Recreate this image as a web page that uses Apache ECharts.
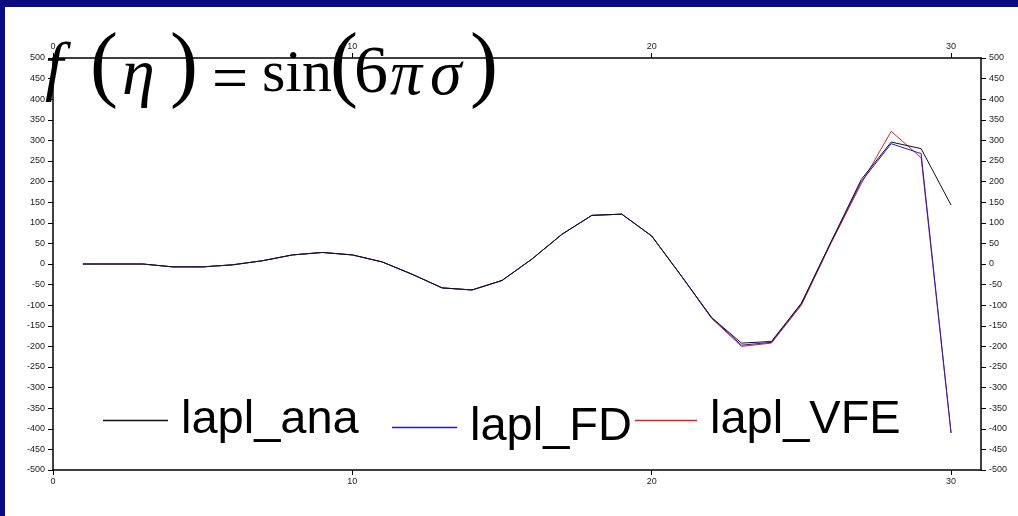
<!DOCTYPE html>
<html><head><meta charset="utf-8">
<script src="https://cdn.jsdelivr.net/npm/echarts@6/dist/echarts.min.js"></script>
<style>
html,body{margin:0;padding:0;background:#0a0a82;width:1018px;height:516px;overflow:hidden}
#panel{position:absolute;left:5px;top:7px;width:1013px;height:509px;background:#fff}
#c{position:absolute;left:0;top:0;width:1018px;height:516px}
</style></head><body>
<div id="panel"></div>
<div id="c"></div>
<script>
const xs = [1,2,3,4,5,6,7,8,9,10,11,12,13,14,15,16,17,18,19,20,21,22,23,24,25,26,27,28,29,30];
const laplAna = [0,0,0,-7,-7,-2,8,22,28,22,5,-25,-58,-63,-40,12,72,118,121,68,-30,-130,-192,-188,-95,55,205,296,280,143];
const laplFD  = [0,0,0,-7,-7,-2,8,22,28,22,5,-25,-58,-63,-40,12,72,118,121,68,-30,-130,-197,-190,-97,55,200,292,268,-410];
const laplVFE = [0,0,0,-7,-7,-2,8,22,28,22,5,-25,-58,-63,-40,12,72,118,121,68,-30,-132,-200,-192,-100,52,195,322,258,-410];
const xTicks = [0,10,20,30];

const chart = echarts.init(document.getElementById('c'), null, {renderer:'canvas'});
const pair = (ys) => xs.map((x,i)=>[x, ys[i]]);
const lbl = {fontSize:9, color:'#222', fontFamily:'Liberation Sans'};
const axLine = {onZero:false, lineStyle:{color:'#000', width:1.5}};
const xBase = {type:'value', min:0, max:31, interval:10, splitLine:{show:false},
  axisLine:axLine, axisTick:{show:true, length:5, customValues:xTicks, lineStyle:{color:'#000'}},
  axisLabel:Object.assign({customValues:xTicks, margin:7}, lbl)};
const yBase = {type:'value', min:-500, max:500, interval:50, splitLine:{show:false},
  axisLine:axLine, axisTick:{show:true, length:5, lineStyle:{color:'#000'}},
  axisLabel:Object.assign({margin:8}, lbl)};
const legText = {fontSize:47, color:'#000', fontFamily:'Liberation Sans', padding:[0,0,0,8]};
const serif = 'Liberation Serif';
function t(str, x, y, size, italic){
  return {type:'text', x:x, y:y, z:100, style:{text:str, fontFamily:serif, fontSize:size,
    fontStyle: italic?'italic':'normal', fill:'#000'}};
}
chart.setOption({
  animation:false,
  backgroundColor:'transparent',
  grid:{left:53, right:37, top:58, bottom:46},
  xAxis:[Object.assign({position:'bottom'}, xBase), Object.assign({position:'top'}, xBase)],
  yAxis:[Object.assign({position:'left'}, yBase), Object.assign({position:'right'}, yBase)],
  legend:[
    {data:['lapl_ana'], left:98, top:392, icon:'rect', itemWidth:65, itemHeight:1.5, textStyle:legText},
    {data:['lapl_FD'], left:387, top:399, icon:'rect', itemWidth:65, itemHeight:1.5, textStyle:legText},
    {data:['lapl_VFE'], left:630, top:392, icon:'rect', itemWidth:62, itemHeight:1.5, textStyle:legText}
  ],
  series:[
    {name:'lapl_VFE', type:'line', data:pair(laplVFE), symbol:'none', lineStyle:{color:'#e02020', width:1}, itemStyle:{color:'#e02020'}},
    {name:'lapl_FD', type:'line', data:pair(laplFD), symbol:'none', lineStyle:{color:'#1a1ae0', width:1}, itemStyle:{color:'#1a1ae0'}},
    {name:'lapl_ana', type:'line', data:pair(laplAna), symbol:'none', lineStyle:{color:'#111', width:1}, itemStyle:{color:'#111'}}
  ],
  graphic:[
    t('f', 45, 38, 66, true), t('(', 90, 27, 84, false), t('η', 122, 44, 66, true), t(')', 170, 27, 84, false),
    t('=', 212, 50, 64, false), t('sin', 262, 45, 60, false), t('(', 330, 27, 84, false), t('6', 354, 40, 68, false),
    t('π', 390, 45, 64, true), t('σ', 430, 45, 64, true), t(')', 470, 27, 84, false)
  ]
});
</script>
</body></html>
